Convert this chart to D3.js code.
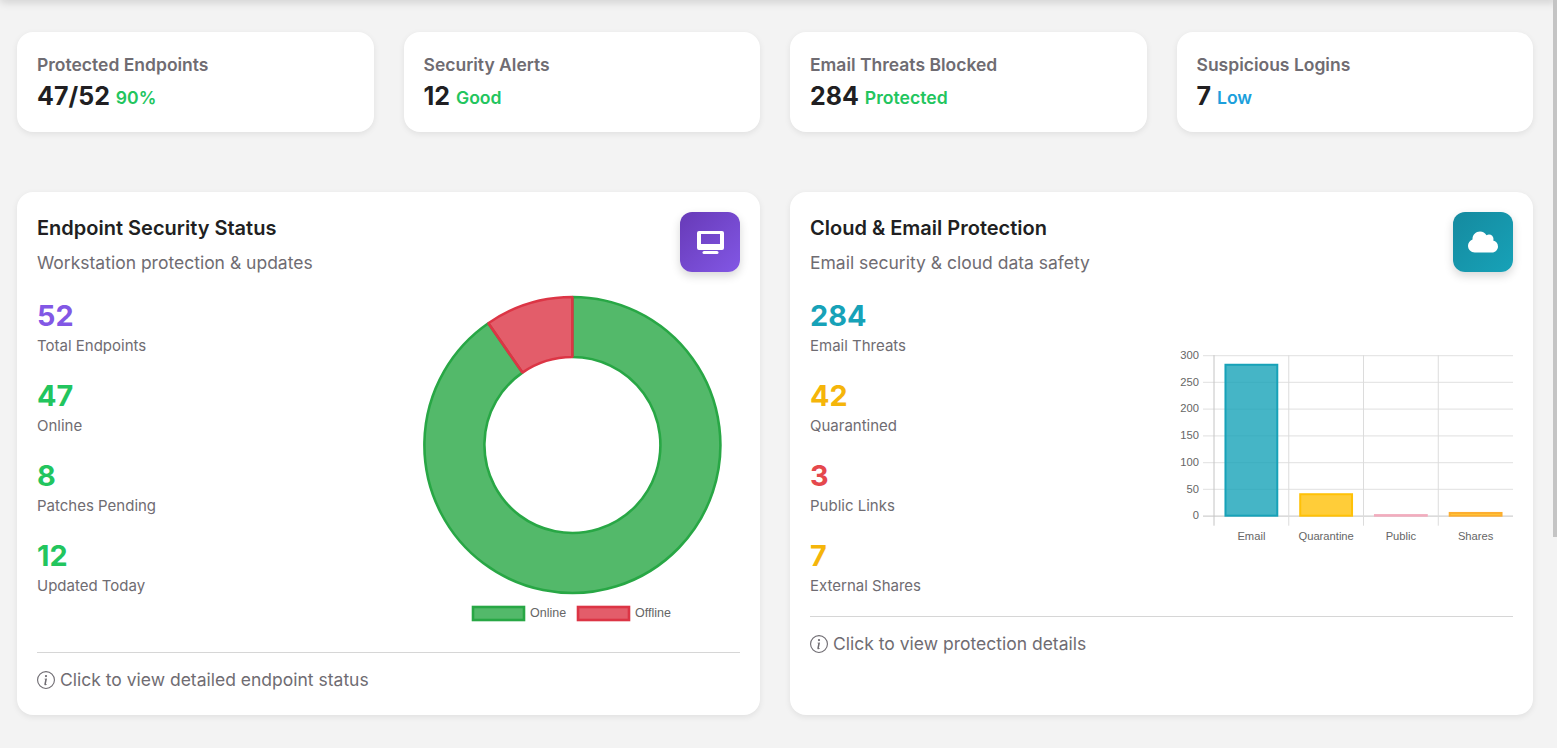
<!DOCTYPE html>
<html>
<head>
<meta charset="utf-8">
<script src="https://cdn.jsdelivr.net/npm/d3@7"></script>
<style>
  html, body { margin: 0; padding: 0; width: 1557px; height: 748px; overflow: hidden; background: #f3f3f3; font-family: Inter, sans-serif; }
  #topbar { position: absolute; left: 0; top: -10px; width: 1557px; height: 10px; box-shadow: 0 2px 10px rgba(0,0,0,.16); background: #fff; }
  #scroll { position: absolute; left: 1553px; top: 0; width: 4px; height: 537px; background: #c4c4c4; }
  .card { position: absolute; background: #fff; border-radius: 16px; box-shadow: 0 2px 6px rgba(0,0,0,.08); box-sizing: border-box; }
  .kpi { top: 32px; height: 100px; width: 356.5px; padding: 20px; }
  .kpi .name { font-size: 17.5px; font-weight: 600; color: #6f6c72; line-height: 26px; }
  .kpi .val { font-size: 25px; font-weight: 700; color: #211f22; line-height: 36px; }
  .kpi .tag { font-size: 17.6px; font-weight: 600; position: relative; top: -1px; }
  .panel { top: 192px; height: 523px; width: 743px; padding: 20px; }
  .panel h3 { margin: 0; font-size: 20px; font-weight: 600; color: #211f22; line-height: 32px; }
  .panel .sub { font-size: 17.5px; color: #6f6c72; line-height: 26px; margin-top: 6px; }
  .badge { position: absolute; right: 20px; top: 20px; width: 60px; height: 60px; border-radius: 12px; box-shadow: 0 4px 10px rgba(0,0,0,.16); display: flex; align-items: center; justify-content: center; }
  .stat { position: absolute; left: 20px; height: 80px; }
  .stat .num { font-size: 28.8px; font-weight: 700; line-height: 36px; }
  .stat .lab { font-size: 15px; color: #6f6c72; line-height: 22px; margin-top: 1px; }
  .foot { position: absolute; left: 20px; right: 20px; border-top: 1px solid #d6d6d6; padding-top: 16px; font-size: 17.5px; color: #6f6c72; line-height: 22px; display: flex; align-items: center; gap: 5px; }
  svg.chart { position: absolute; left: 0; top: 0; overflow: visible; }
  svg.chart text { font-family: "Liberation Sans", Arial, sans-serif; }
</style>
</head>
<body>
<div id="topbar"></div>
<div id="scroll"></div>
<script>
// top row
var kpiNames = ["Protected Endpoints", "Security Alerts", "Email Threats Blocked", "Suspicious Logins"];
var kpiValues = ["47/52", "12", "284", "7"];
var kpiTags = ["90%", "Good", "Protected", "Low"];
var kpiTagColors = ["#22c55e", "#22c55e", "#22c55e", "#1c9fdc"];
var kpiLefts = [17, 403.5, 790, 1176.5];

// endpoint panel
var endpointStats = ["52", "47", "8", "12"];
var endpointLabels = ["Total Endpoints", "Online", "Patches Pending", "Updated Today"];
var endpointColors = ["#8257e5", "#22c55e", "#22c55e", "#22c55e"];
var donutLabels = ["Online", "Offline"];
var donutValues = [47, 5];
var donutFill = ["rgba(40,167,69,.8)", "rgba(220,53,69,.8)"];
var donutBorder = ["#28a745", "#dc3545"];

// cloud panel
var cloudStats = ["284", "42", "3", "7"];
var cloudLabels = ["Email Threats", "Quarantined", "Public Links", "External Shares"];
var cloudColors = ["#17a2b8", "#f5b50a", "#e5484d", "#f5b50a"];
var barLabels = ["Email", "Quarantine", "Public", "Shares"];
var barValues = [284, 42, 3, 7];
var barFill = ["rgba(23,162,184,.8)", "rgba(255,193,7,.8)", "rgba(232,62,110,.35)", "rgba(255,193,7,.8)"];
var barBorder = ["#17a2b8", "#ffc107", "#f2acbe", "#fdae2f"];
var yTicks = [0, 50, 100, 150, 200, 250, 300];

var INFO = '<svg width="18" height="18" viewBox="0 0 16 16" fill="currentColor"><path d="M8 15A7 7 0 1 1 8 1a7 7 0 0 1 0 14zm0 1A8 8 0 1 0 8 0a8 8 0 0 0 0 16z"/><path d="m8.93 6.588-2.29.287-.082.38.45.083c.294.07.352.176.288.469l-.738 3.468c-.194.897.105 1.319.808 1.319.545 0 1.178-.252 1.465-.598l.088-.416c-.2.176-.492.246-.686.246-.275 0-.375-.193-.304-.533L8.93 6.588zM9 4.5a1 1 0 1 1-2 0 1 1 0 0 1 2 0z"/></svg>';
var DESKTOP = '<svg width="27" height="23" viewBox="0 0 27 23" fill="#fff" fill-rule="evenodd"><path d="M2 0H25a2 2 0 0 1 2 2V17a2 2 0 0 1-2 2H2a2 2 0 0 1-2-2V2a2 2 0 0 1 2-2zM4 3V13H23V3z"/><path d="M7 20H20a1.5 1.5 0 0 1 0 3H7a1.5 1.5 0 0 1 0-3z"/></svg>';
var CLOUD = '<svg width="30" height="24" viewBox="0 0 640 512" fill="#fff"><path d="M537.6 226.6c4.1-10.7 6.4-22.4 6.4-34.6 0-53-43-96-96-96-19.7 0-38.1 6-53.3 16.2C367 64.2 315.3 32 256 32c-88.4 0-160 71.6-160 160 0 2.7.1 5.4.2 8.1C40.2 219.8 0 273.2 0 336c0 79.5 64.5 144 144 144h368c70.7 0 128-57.3 128-128 0-61.9-44-113.6-102.4-125.4z"/></svg>';

var body = d3.select("body");

kpiNames.forEach(function(name, i) {
  var c = body.append("div").attr("class", "card kpi").style("left", kpiLefts[i] + "px");
  c.append("div").attr("class", "name").text(name);
  var v = c.append("div").attr("class", "val").text(kpiValues[i] + " ");
  v.append("span").attr("class", "tag").style("color", kpiTagColors[i]).text(kpiTags[i]);
});

function make_panel(left, title, sub, icon, grad, nums, labs, cols, footText, footTop) {
  var p = body.append("div").attr("class", "card panel").style("left", left + "px");
  p.append("h3").text(title);
  p.append("div").attr("class", "sub").text(sub);
  p.append("div").attr("class", "badge").style("background", grad).html(icon);
  nums.forEach(function(n, i) {
    var s = p.append("div").attr("class", "stat").style("top", (106 + i * 80) + "px");
    s.append("div").attr("class", "num").style("color", cols[i]).text(n);
    s.append("div").attr("class", "lab").text(labs[i]);
  });
  var f = p.append("div").attr("class", "foot").style("top", footTop + "px");
  f.html(INFO);
  f.append("span").text(footText);
  return p;
}

var left = make_panel(17, "Endpoint Security Status", "Workstation protection & updates", DESKTOP,
  "linear-gradient(135deg,#673ab7,#8257e5)", endpointStats, endpointLabels, endpointColors,
  "Click to view detailed endpoint status", 460);
var right = make_panel(790, "Cloud & Email Protection", "Email security & cloud data safety", CLOUD,
  "linear-gradient(135deg,#158a9f,#17a2b8)", cloudStats, cloudLabels, cloudColors,
  "Click to view protection details", 424);

// doughnut
function draw_donut(parent) {
  var svg = parent.append("svg").attr("class", "chart").attr("width", 743).attr("height", 523);
  var g = svg.append("g").attr("transform", "translate(555.4,253)");
  var pie = d3.pie().sort(null)(donutValues);
  var arc = d3.arc().innerRadius(88).outerRadius(148);
  g.selectAll("path").data(pie).enter().append("path")
    .attr("d", arc)
    .attr("fill", function(d, i) { return donutFill[i]; })
    .attr("stroke", function(d, i) { return donutBorder[i]; })
    .attr("stroke-width", 2.6)
    .attr("stroke-linejoin", "bevel");

  var legend = svg.append("g").attr("transform", "translate(0,415)");
  var lx = d3.scaleOrdinal().domain(donutLabels).range([456, 561]);
  var items = legend.selectAll("g").data(donutLabels).enter().append("g")
    .attr("transform", function(d) { return "translate(" + lx(d) + ",0)"; });
  items.append("rect").attr("width", 51).attr("height", 13)
    .attr("fill", function(d, i) { return donutFill[i]; })
    .attr("stroke", function(d, i) { return donutBorder[i]; })
    .attr("stroke-width", 2.6);
  items.append("text").attr("x", 57).attr("y", 10).attr("font-size", 12.5).attr("fill", "#666").text(function(d) { return d; });
}
draw_donut(left);

// bars
function draw_bars(parent) {
  var svg = parent.append("svg").attr("class", "chart").attr("width", 743).attr("height", 523);
  var g = svg.append("g").attr("transform", "translate(424,163.2)");
  var width = 299, height = 160.5;
  var x = d3.scaleBand().domain(barLabels).range([0, width]).paddingInner(0.28).paddingOuter(0.14);
  var y = d3.scaleLinear().domain([0, 300]).range([height, 0]);
  var step = x.step();

  var ya = g.append("g").call(d3.axisLeft(y).tickValues(yTicks).tickSize(0).tickPadding(15));
  ya.select(".domain").remove();
  ya.selectAll("line").attr("x1", -11).attr("x2", width).attr("stroke-width", 1.2)
    .attr("stroke", function(d) { return d === 0 ? "#cfcfcf" : "#e6e6e6"; });
  ya.selectAll("text").attr("font-size", 11.2).attr("fill", "#666").attr("font-family", "Liberation Sans").attr("dy", "0.28em");

  var xa = g.append("g").attr("transform", "translate(0," + height + ")").call(d3.axisBottom(x).tickSize(0).tickPadding(16));
  xa.select(".domain").remove();
  xa.selectAll("line").attr("x1", -step / 2).attr("x2", -step / 2).attr("y1", -height).attr("y2", 10)
    .attr("stroke", function(d, i) { return i === 0 ? "#c4c4c4" : "#dcdcdc"; });
  xa.selectAll("text").attr("font-size", 11.2).attr("fill", "#666").attr("font-family", "Liberation Sans");

  g.selectAll(".bar").data(barValues).enter().append("rect")
    .attr("class", "bar")
    .attr("x", function(d, i) { return x(barLabels[i]) + 1; })
    .attr("width", x.bandwidth() - 2)
    .attr("y", function(d) { return y(d) + 1; })
    .attr("height", function(d) { return Math.max(height - y(d) - 1, 0.5); })
    .attr("fill", function(d, i) { return barFill[i]; })
    .attr("stroke", function(d, i) { return barBorder[i]; })
    .attr("stroke-width", 2);
}
draw_bars(right);
</script>
</body>
</html>
